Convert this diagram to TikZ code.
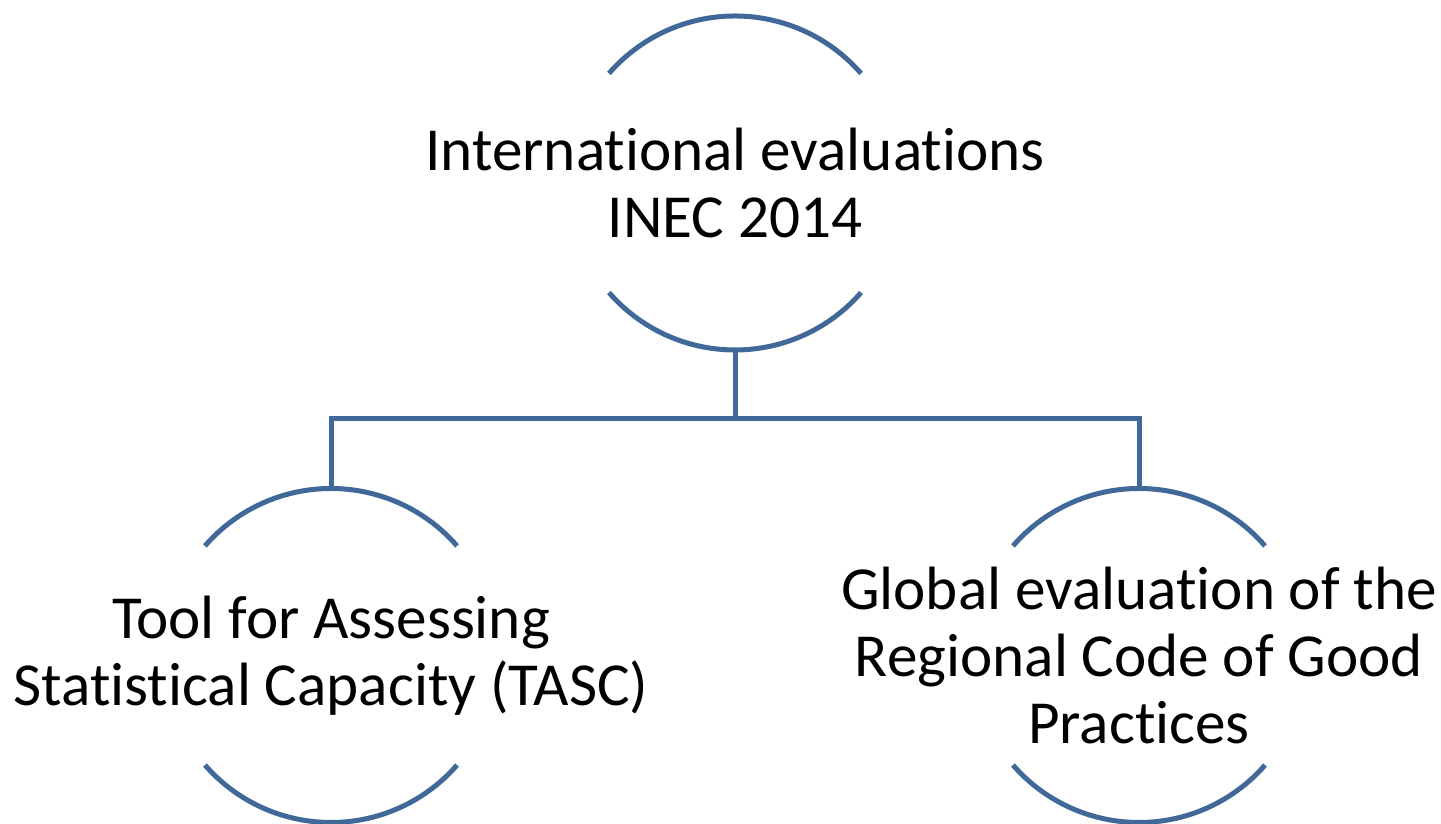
\documentclass[tikz,border=0pt]{standalone}
\usepackage{fontspec}
\setmainfont{Carlito}[Ligatures=NoCommon,RawFeature={-liga;-clig;-calt;-dlig}]

\definecolor{arcblue}{RGB}{64,104,152}

\begin{document}
\begin{tikzpicture}[
  topic/.style={inner sep=0pt,outer sep=0pt,align=center,
    font=\fontsize{17.4}{19.1}\selectfont},
  arcline/.style={draw=arcblue,line width=0.05cm},
]
  \useasboundingbox (0,0) rectangle (14.41,8.24);

  % Top level
  \node[topic] (inec) at (7.35,6.41) {International evaluations\\INEC 2014};

  % Second level
  \node[topic] (tasc) at (3.31,1.685)
    {Tool for Assessing\\Statistical Capacity (TASC)};
  \node[topic] (gecp) at (11.39,1.685)
    {Global evaluation of the\\Regional Code of Good\\Practices};

  % Arcs round each topic
  \foreach \n in {inec,tasc,gecp} {
    \coordinate (\n-n) at ([yshift=1.67cm]\n.center);
    \coordinate (\n-s) at ([yshift=-1.67cm]\n.center);
    \draw[arcline] ([shift={(41:1.67cm)}]\n.center) arc[start angle=41,end angle=139,radius=1.67cm];
    \draw[arcline] ([shift={(221:1.67cm)}]\n.center) arc[start angle=221,end angle=319,radius=1.67cm];
  }

  % Connectors
  \coordinate (bus) at ([yshift=-0.69cm]inec-s);
  \draw[arcline] (inec-s) -- (bus);
  \draw[arcline] (bus) -| (tasc-n);
  \draw[arcline] (bus) -| (gecp-n);
\end{tikzpicture}
\end{document}
